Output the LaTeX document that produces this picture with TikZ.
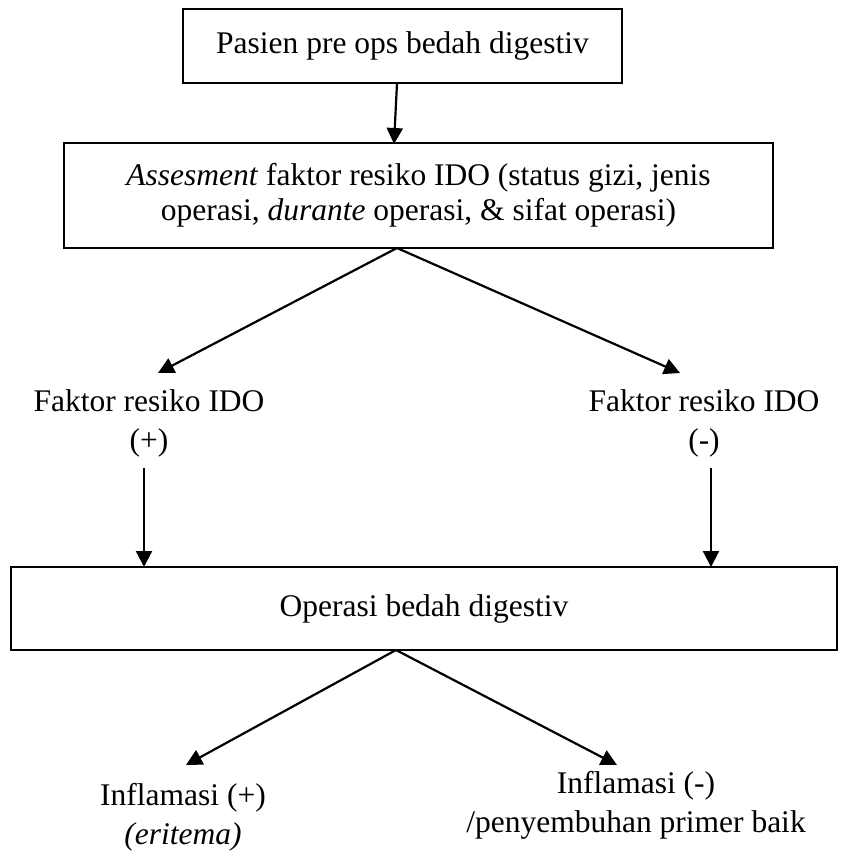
\documentclass[tikz,border=0pt]{standalone}
\usepackage{fontspec}
\setmainfont{Liberation Serif}
\usetikzlibrary{arrows.meta}
\begin{document}
\begin{tikzpicture}[x=1pt,y=-1pt,
  box/.style={draw,line width=2pt,inner sep=0pt,align=center,font=\fontsize{31.5}{35}\selectfont},
  lbl/.style={inner sep=0pt,align=center,font=\fontsize{31.5}{39}\selectfont},
  arr/.style={line width=2.2pt,-{Triangle[length=16pt,width=16pt]}}]
\useasboundingbox (0,0) rectangle (849,852);
\node[box,minimum width=439pt,minimum height=74pt] (b1) at (402.5,46) {Pasien pre ops bedah digestiv};
\node[box,minimum width=709pt,minimum height=105pt] (b2) at (418.5,195.5)
  {\textit{Assesment} faktor resiko IDO (status gizi, jenis\\operasi, \textit{durante} operasi, \& sifat operasi)};
\node[lbl] (f1) at (149,423) {Faktor resiko IDO\\(+)};
\node[lbl] (f2) at (704,423) {Faktor resiko IDO\\(-)};
\node[box,minimum width=826pt,minimum height=83pt] (b3) at (424,608.5) {Operasi bedah digestiv};
\node[lbl] (i1) at (183,817) {Inflamasi (+)\\\textit{(eritema)}};
\node[lbl] (i2) at (636,805) {Inflamasi (-)\\/penyembuhan primer baik};
\coordinate (a1) at (397,83);
\coordinate (e1) at (394,144);
\coordinate (a2) at (397,248);
\coordinate (tL) at (158,373);
\coordinate (tR) at (680,373);
\coordinate (s1) at (144,468);
\coordinate (s2) at (711,468);
\coordinate (d1) at (144,567);
\coordinate (d2) at (711,567);
\coordinate (a3) at (396,650);
\coordinate (uL) at (186,765);
\coordinate (uR) at (617,765);
\draw[arr] (a1) -- (e1);
\draw[arr] (a2) -- (tL);
\draw[arr] (a2) -- (tR);
\draw[arr] (s1) -- (d1);
\draw[arr] (s2) -- (d2);
\draw[arr] (a3) -- (uL);
\draw[arr] (a3) -- (uR);
\end{tikzpicture}
\end{document}
